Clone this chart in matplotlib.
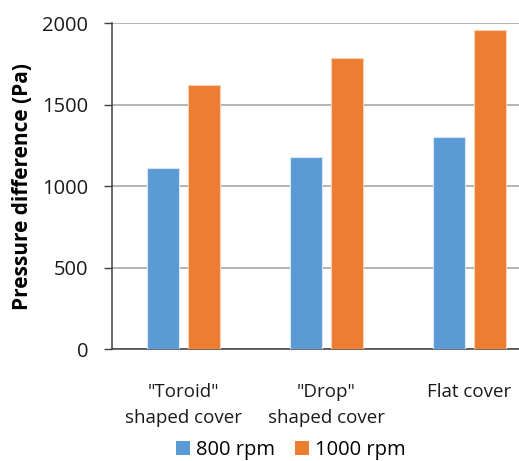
import matplotlib
matplotlib.use("Agg")
import matplotlib.pyplot as plt
import numpy as np
from matplotlib.patches import Patch

plt.rcParams['font.family'] = ['Open Sans', 'DejaVu Sans']

categories = ['"Toroid"\nshaped cover', '"Drop"\nshaped cover', 'Flat cover']
series_names = ['800 rpm', '1000 rpm']
rpm_800 = [1110, 1180, 1305]
rpm_1000 = [1620, 1785, 1960]
yticks = [0, 500, 1000, 1500, 2000]

colors = ['#5B9BD5', '#ED7D31']

fig = plt.figure(figsize=(5.19, 4.61), dpi=100)
ax = fig.add_axes([0.2158, 0.2419, 0.7842, 0.7075])

x = np.arange(len(categories))
w = 0.225
off = 0.145
ax.bar(x - off, rpm_800, w, color=colors[0], edgecolor='#d6e6f5', linewidth=0.8, zorder=3)
ax.bar(x + off, rpm_1000, w, color=colors[1], edgecolor='#f8d0b5', linewidth=0.8, zorder=3)

ax.set_ylim(0, 2000)
ax.set_xlim(-0.5, 2.346)
ax.set_yticks(yticks)
ax.set_yticklabels([str(v) for v in yticks], fontsize=14.5, color='#1a1a1a')
ax.set_xticks(x)
ax.set_xticklabels(categories, fontsize=13.5, color='#1a1a1a', linespacing=1.55)
ax.tick_params(axis='x', length=0, pad=24)
ax.tick_params(axis='y', length=6, width=1, color='#404040', pad=11)

ax.grid(axis='y', color='#a0a0a0', linewidth=1.1, zorder=0)
ax.set_axisbelow(True)
for s in ['top', 'right']:
    ax.spines[s].set_visible(False)
ax.spines['left'].set_color('#404040')
ax.spines['bottom'].set_color('#404040')
ax.spines['left'].set_linewidth(1.1)
ax.spines['bottom'].set_linewidth(1.1)

ax.set_ylabel('Pressure difference (Pa)', fontsize=15, fontweight='bold', labelpad=7)

handles = [Patch(facecolor=c, edgecolor='none') for c in colors]
fig.legend(handles, series_names, loc='center', bbox_to_anchor=(0.56, 0.024),
           ncol=2, frameon=False, fontsize=14.5, handlelength=0.7, handleheight=0.7,
           handletextpad=0.3, columnspacing=1.0, borderaxespad=0)

fig.savefig('out.png', dpi=100)
